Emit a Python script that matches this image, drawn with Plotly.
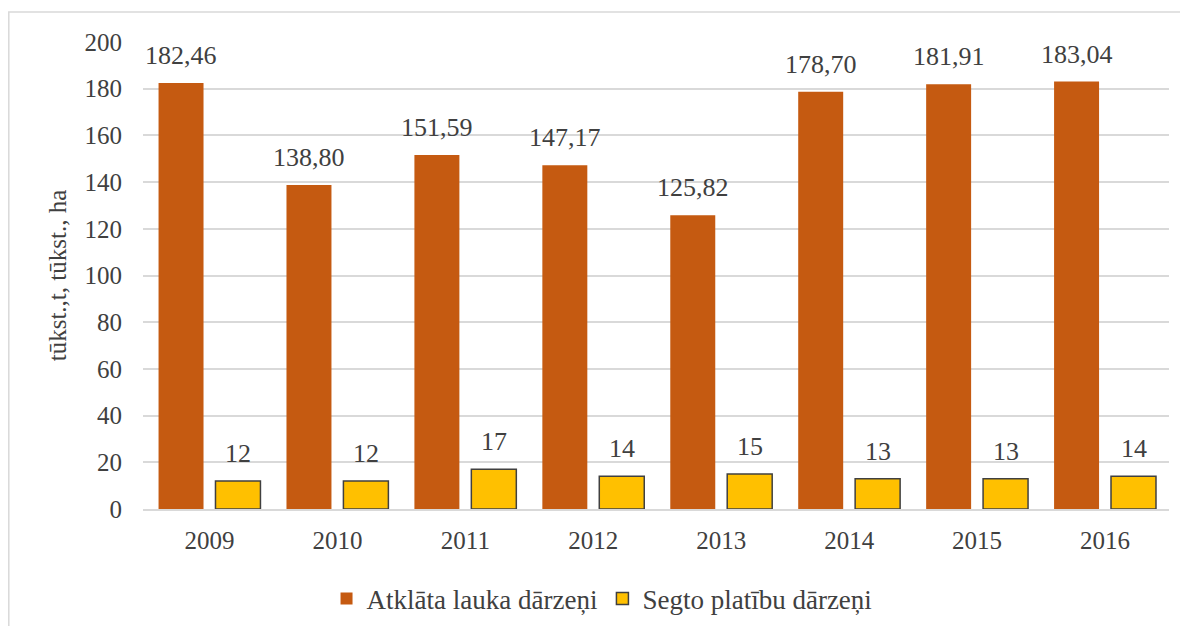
import plotly.graph_objects as go

years = ["2009", "2010", "2011", "2012", "2013", "2014", "2015", "2016"]
open_field = [182.46, 138.80, 151.59, 147.17, 125.82, 178.70, 181.91, 183.04]
covered = [12, 12, 17, 14, 15, 13, 13, 14]

ORANGE = "#C55A11"
YELLOW = "#FFC000"
TEXT = "#404040"
GRID = "#D9D9D9"
FONT = "Liberation Serif"
LABEL_SIZE = 26

fig = go.Figure()
fig.add_trace(go.Bar(
    x=years, y=open_field, name="Atklāta lauka dārzeņi",
    marker=dict(color=ORANGE, line=dict(width=0)),
))
fig.add_trace(go.Bar(
    x=years, y=covered, name="Segto platību dārzeņi",
    marker=dict(color=YELLOW, line=dict(color=TEXT, width=1.5)),
))

# value labels above the bars; on a category axis x is the category index,
# shifted half a bar slot to each side
annotations = []
for i, v in enumerate(open_field):
    annotations.append(dict(x=i, y=v, xref="x", yref="y", text=f"{v:.2f}".replace(".", ","),
                            showarrow=False, xshift=-28.5, yshift=11, yanchor="bottom",
                            font=dict(size=LABEL_SIZE, color=TEXT)))
for i, v in enumerate(covered):
    annotations.append(dict(x=i, y=v, xref="x", yref="y", text=f"{v:.0f}",
                            showarrow=False, xshift=28.5, yshift=11, yanchor="bottom",
                            font=dict(size=LABEL_SIZE, color=TEXT)))

fig.update_layout(
    width=1188, height=626,
    barmode="group", bargap=0.11, bargroupgap=0.21,
    plot_bgcolor="white", paper_bgcolor="white",
    font=dict(family=FONT, size=25, color=TEXT),
    margin=dict(l=135, r=27, t=34, b=124),
    xaxis=dict(type="category", showgrid=False, showline=True, linecolor=GRID, linewidth=1.5,
               ticks="", tickfont=dict(size=25), ticklabelstandoff=8, automargin=False),
    yaxis=dict(range=[0, 200], dtick=20, showgrid=True, gridcolor=GRID,
               gridwidth=1.5, zeroline=False, ticks="", automargin=False,
               tickfont=dict(size=25), ticklabelstandoff=20,
               title=dict(text="tūkst.,t, tūkst., ha", font=dict(size=25), standoff=10)),
    legend=dict(orientation="h", x=0.4474, xanchor="center", y=-0.19, yanchor="middle",
                font=dict(size=27), itemwidth=30, traceorder="normal"),
    annotations=annotations,
    shapes=[dict(type="rect", xref="paper", yref="paper",
                 x0=-0.1308, x1=1.0175, y0=-0.3, y1=1.0641,
                 line=dict(color=GRID, width=1.5), fillcolor="rgba(0,0,0,0)", layer="below")],
)

fig.write_html("out.html")
